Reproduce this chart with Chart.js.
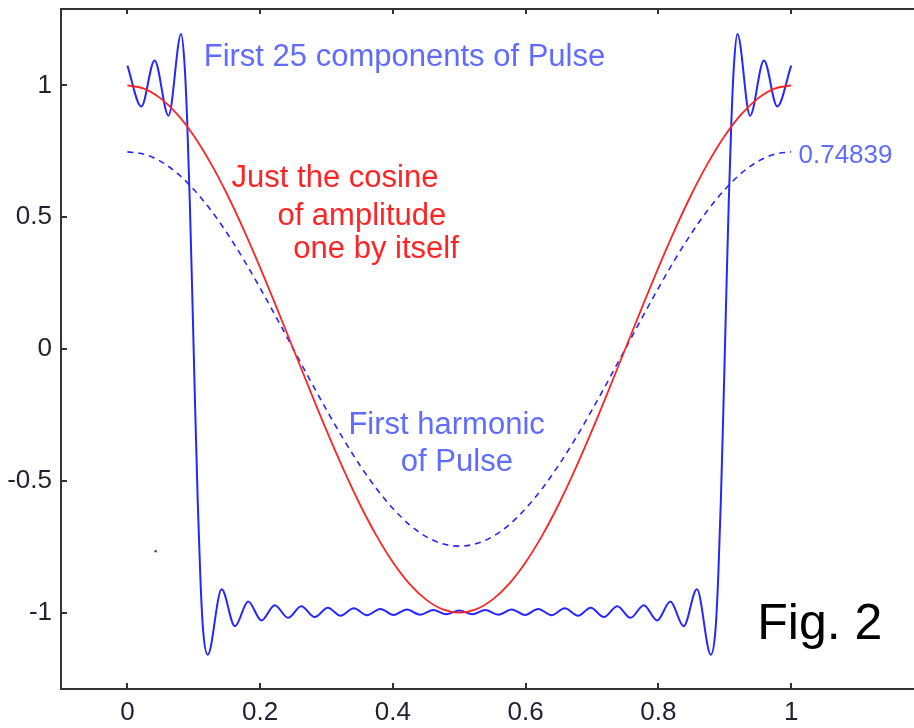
<!DOCTYPE html>
<html>
<head>
<meta charset="utf-8">
<title>Fig. 2</title>
<script src="https://cdn.jsdelivr.net/npm/chart.js@4.4.1/dist/chart.umd.min.js"></script>
<style>
  html, body { margin: 0; padding: 0; background: #fff; overflow: hidden; }
  #wrap { width: 914px; height: 728px; }
</style>
</head>
<body>
<div id="wrap"><canvas id="myChart" width="914" height="728"></canvas></div>
<script>
// x for the cosine and the first harmonic (steps of 0.025)
const xCos = [0, 0.025, 0.05, 0.075, 0.1, 0.125, 0.15, 0.175, 0.2, 0.225, 0.25, 0.275, 0.3, 0.325, 0.35,
  0.375, 0.4, 0.425, 0.45, 0.475, 0.5, 0.525, 0.55, 0.575, 0.6, 0.625, 0.65, 0.675, 0.7, 0.725, 0.75,
  0.775, 0.8, 0.825, 0.85, 0.875, 0.9, 0.925, 0.95, 0.975, 1];

// red line: the cosine of amplitude one
const yCoseno = [1, 0.988, 0.951, 0.891, 0.809, 0.707, 0.588, 0.454, 0.309, 0.156, 0, -0.156, -0.309,
  -0.454, -0.588, -0.707, -0.809, -0.891, -0.951, -0.988, -1, -0.988, -0.951, -0.891, -0.809, -0.707,
  -0.588, -0.454, -0.309, -0.156, 0, 0.156, 0.309, 0.454, 0.588, 0.707, 0.809, 0.891, 0.951, 0.988, 1];

// dashed line: first harmonic of the pulse
const yArmonico = [0.748, 0.739, 0.712, 0.667, 0.605, 0.529, 0.440, 0.340, 0.231, 0.117, 0, -0.117,
  -0.231, -0.340, -0.440, -0.529, -0.605, -0.667, -0.712, -0.739, -0.748, -0.739, -0.712, -0.667,
  -0.605, -0.529, -0.440, -0.340, -0.231, -0.117, 0, 0.117, 0.231, 0.340, 0.440, 0.529, 0.605, 0.667,
  0.712, 0.739, 0.748];

// blue line: first 25 components of the pulse (peaks, troughs and the steep edges)
const xPulso = [0, 0.021, 0.041, 0.062, 0.081, 0.086, 0.090, 0.094, 0.098, 0.102, 0.106, 0.110, 0.114,
  0.121, 0.142, 0.162, 0.182, 0.202, 0.222, 0.242, 0.262, 0.282, 0.302, 0.321, 0.341, 0.361, 0.381,
  0.401, 0.421, 0.441, 0.461, 0.480, 0.500, 0.520, 0.539, 0.559, 0.579, 0.599, 0.619, 0.639, 0.659,
  0.679, 0.698, 0.718, 0.738, 0.758, 0.778, 0.798, 0.818, 0.838, 0.858, 0.879, 0.886, 0.890, 0.894,
  0.898, 0.902, 0.906, 0.910, 0.914, 0.919, 0.938, 0.959, 0.979, 1];
const yPulso = [1.075, 0.920, 1.095, 0.885, 1.195, 1.085, 0.872, 0.561, 0.183, -0.215, -0.580, -0.872,
  -1.065, -1.160, -0.912, -1.052, -0.958, -1.030, -0.972, -1.020, -0.976, -1.017, -0.982, -1.012,
  -0.984, -1.010, -0.986, -1.009, -0.988, -1.008, -0.990, -1.006, -0.992, -1.006, -0.990, -1.008,
  -0.988, -1.009, -0.986, -1.010, -0.984, -1.012, -0.982, -1.017, -0.976, -1.020, -0.972, -1.030,
  -0.958, -1.052, -0.912, -1.160, -1.065, -0.872, -0.580, -0.215, 0.183, 0.561, 0.872, 1.085, 1.195,
  0.885, 1.095, 0.920, 1.075];

// stray dot left in the figure
const puntoX = [0.0426];
const puntoY = [-0.767];

const xTicks = [0, 0.2, 0.4, 0.6, 0.8, 1];
const yTicks = [-1, -0.5, 0, 0.5, 1];

const textos = ["First 25 components of Pulse", "0.74839", "Just the cosine", "of amplitude",
  "one by itself", "First harmonic", "of Pulse", "Fig. 2"];

const AZUL = "#2626ff";
const AZUL_TEXTO = "#5f6cff";
const ROJO = "#ff2424";
const EJE = "#333333";
const FUENTE = "'Liberation Sans', Arial, sans-serif";

function puntos(xs, ys) {
  return xs.map((x, i) => ({ x: x, y: ys[i] }));
}

// no extra room for half labels at the ends of the axes
function sinRelleno(s) {
  s.paddingTop = 0;
  s.paddingBottom = 0;
  s.paddingLeft = 0;
  s.paddingRight = 0;
}

// inward ticks on the bottom, top and left axes
const marcas = {
  id: "marcas",
  afterDraw(chart) {
    const { ctx, chartArea, scales } = chart;
    ctx.save();
    ctx.strokeStyle = EJE;
    ctx.lineWidth = 2;
    ctx.beginPath();
    xTicks.forEach((v) => {
      const px = Math.round(scales.x.getPixelForValue(v));
      ctx.moveTo(px, chartArea.bottom);
      ctx.lineTo(px, chartArea.bottom - 6);
      ctx.moveTo(px, chartArea.top);
      ctx.lineTo(px, chartArea.top + 5);
    });
    yTicks.forEach((v) => {
      const py = Math.round(scales.y.getPixelForValue(v));
      ctx.moveTo(chartArea.left, py);
      ctx.lineTo(chartArea.left + 6, py);
    });
    // the frame runs on past the right edge of the picture
    ctx.moveTo(chartArea.right - 1, chartArea.top);
    ctx.lineTo(chart.width, chartArea.top);
    ctx.moveTo(chartArea.right - 1, chartArea.bottom);
    ctx.lineTo(chart.width, chartArea.bottom);
    ctx.stroke();
    ctx.restore();
  },
};

// the annotations, placed in data units
const anotaciones = {
  id: "anotaciones",
  afterDatasetsDraw(chart) {
    const { ctx, scales } = chart;
    const lugar = [
      [0.115, 1.074, AZUL_TEXTO, 31],
      [1.011, 0.704, AZUL_TEXTO, 26],
      [0.157, 0.614, ROJO, 31],
      [0.226, 0.470, ROJO, 31],
      [0.250, 0.344, ROJO, 31],
      [0.333, -0.324, AZUL_TEXTO, 31],
      [0.412, -0.461, AZUL_TEXTO, 31],
      [0.949, -1.102, "#000000", 50],
    ];
    ctx.save();
    ctx.textAlign = "left";
    ctx.textBaseline = "alphabetic";
    textos.forEach((t, i) => {
      const [x, y, color, size] = lugar[i];
      ctx.fillStyle = color;
      ctx.font = size + "px " + FUENTE;
      ctx.fillText(t, scales.x.getPixelForValue(x), scales.y.getPixelForValue(y));
    });
    ctx.restore();
  },
};

const config = {
  type: "line",
  data: {
    datasets: [
      {
        data: puntos(xCos, yCoseno),
        borderColor: ROJO,
        borderWidth: 1.8,
        pointRadius: 0,
        fill: false,
        cubicInterpolationMode: "monotone",
      },
      {
        data: puntos(xPulso, yPulso),
        borderColor: AZUL,
        borderWidth: 2,
        pointRadius: 0,
        fill: false,
        cubicInterpolationMode: "monotone",
      },
      {
        data: puntos(xCos, yArmonico),
        borderColor: AZUL,
        borderWidth: 1.6,
        borderDash: [6, 5],
        pointRadius: 0,
        fill: false,
        cubicInterpolationMode: "monotone",
      },
      {
        type: "scatter",
        data: puntos(puntoX, puntoY),
        backgroundColor: "#555555",
        borderWidth: 0,
        pointRadius: 1.3,
      },
    ],
  },
  options: {
    responsive: false,
    devicePixelRatio: 1,
    animation: false,
    layout: { padding: 0 },
    plugins: {
      legend: { display: false },
      tooltip: { enabled: false },
    },
    scales: {
      x: {
        type: "linear",
        position: "bottom",
        min: -0.1,
        max: 1.179,
        grid: { display: false, drawTicks: false },
        border: { display: true, color: EJE, width: 2 },
        ticks: {
          color: "#222233",
          font: { family: FUENTE, size: 26 },
          padding: 8,
          maxRotation: 0,
          autoSkip: false,
          callback: (v) => String(v),
        },
        afterBuildTicks: (s) => { s.ticks = xTicks.map((v) => ({ value: v })); },
        afterFit: (s) => { s.height = 39; sinRelleno(s); },
      },
      x2: {
        type: "linear",
        position: "top",
        min: -0.1,
        max: 1.179,
        grid: { display: false, drawTicks: false },
        border: { display: true, color: EJE, width: 2 },
        ticks: { display: false },
        afterFit: (s) => { s.height = 9; sinRelleno(s); },
      },
      y: {
        type: "linear",
        min: -1.29,
        max: 1.29,
        grid: { display: false, drawTicks: false },
        border: { display: true, color: EJE, width: 2 },
        ticks: {
          color: "#222233",
          font: { family: FUENTE, size: 26 },
          padding: 9,
          callback: (v) => String(v),
        },
        afterBuildTicks: (s) => { s.ticks = yTicks.map((v) => ({ value: v })); },
        afterFit: (s) => { s.width = 61; sinRelleno(s); },
      },
    },
  },
  plugins: [marcas, anotaciones],
};

const myChart = new Chart(document.getElementById("myChart"), config);
</script>
</body>
</html>
